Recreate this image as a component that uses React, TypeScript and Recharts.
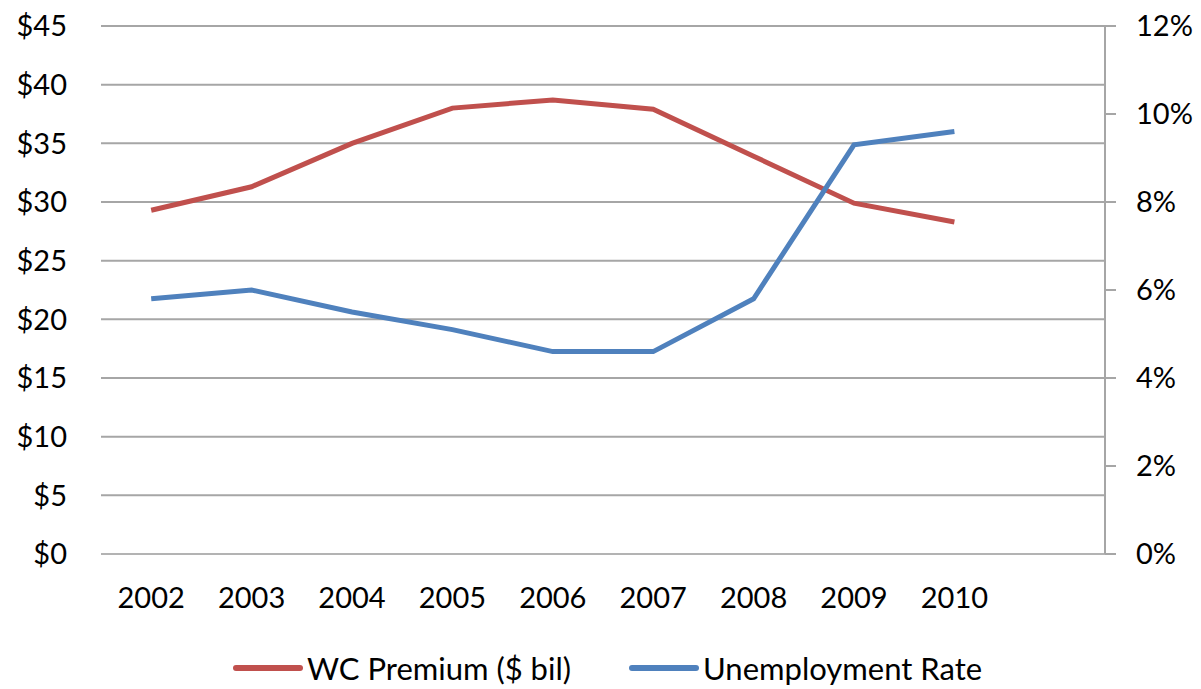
import React from "react";
import { ComposedChart, Line, XAxis, YAxis, CartesianGrid, Legend } from "recharts";

const years = ["2002", "2003", "2004", "2005", "2006", "2007", "2008", "2009", "2010", ""];
const wcPremium: (number | null)[] = [29.3, 31.3, 35.0, 38.0, 38.7, 37.9, 33.9, 29.9, 28.3, null];
const unemployment: (number | null)[] = [5.8, 6.0, 5.5, 5.1, 4.6, 4.6, 5.8, 9.3, 9.6, null];
const leftTicks = [0, 5, 10, 15, 20, 25, 30, 35, 40, 45];
const rightTicks = [0, 2, 4, 6, 8, 10, 12];

const data = years.map((y, i) => ({ year: y, wc: wcPremium[i], unemp: unemployment[i] }));

const FONT = "Lato, 'DejaVu Sans', sans-serif";
const RED = "#C0504D";
const BLUE = "#4F81BD";
const GRID = "#a6a6a6";

const legendItems = [
  { label: "WC Premium ($ bil)", color: RED },
  { label: "Unemployment Rate", color: BLUE },
];

const LegendContent = () => (
  <div style={{ display: "flex", alignItems: "center", marginLeft: 233, fontFamily: FONT, fontSize: 31, color: "#000", height: 44 }}>
    {legendItems.map((it, i) => (
      <div key={i} style={{ display: "flex", alignItems: "center", marginRight: i === 0 ? 58 : 0 }}>
        <div style={{ width: 70, height: 6, background: it.color, borderRadius: 3 }} />
        <span style={{ marginLeft: 4, display: "inline-block", whiteSpace: "nowrap" }}>{it.label}</span>
      </div>
    ))}
  </div>
);

export default function App() {
  return (
    <div style={{ position: "absolute", left: 0, top: 0, width: 1201, height: 689, background: "#fff" }}>
      <ComposedChart width={1201} height={689} data={data} margin={{ top: 26, right: 0, bottom: 0, left: 0 }}>
        <CartesianGrid vertical={false} stroke={GRID} strokeWidth={2} yAxisId="left" />
        <XAxis
          dataKey="year"
          scale="band"
          axisLine={{ stroke: "#b3b3b3", strokeWidth: 2 }}
          tickLine={false}
          tickSize={0}
          tickMargin={33}
          height={91}
          interval={0}
          tick={{ fontFamily: FONT, fontSize: 29, fill: "#000" }}
        />
        <YAxis
          yAxisId="left"
          orientation="left"
          width={101}
          domain={[0, 45]}
          ticks={leftTicks}
          axisLine={false}
          tickLine={false}
          tickSize={0}
          tickMargin={34}
          tickFormatter={(v: number) => `$${v}`}
          tick={{ fontFamily: FONT, fontSize: 29, fill: "#000" }}
        />
        <YAxis
          yAxisId="right"
          orientation="right"
          width={96}
          domain={[0, 12]}
          ticks={rightTicks}
          axisLine={{ stroke: GRID, strokeWidth: 2 }}
          tickLine={{ stroke: GRID, strokeWidth: 2 }}
          tickSize={11}
          tickMargin={20}
          tickFormatter={(v: number) => `${v}%`}
          tick={{ fontFamily: FONT, fontSize: 29, fill: "#000", textAnchor: "start" }}
        />
        <Legend
          verticalAlign="bottom"
          content={<LegendContent />}
          wrapperStyle={{ left: 0, top: 646, width: 1201, height: 44 }}
        />
        <Line yAxisId="left" type="linear" dataKey="wc" name="WC Premium ($ bil)" stroke={RED} strokeWidth={5} dot={false} isAnimationActive={false} />
        <Line yAxisId="right" type="linear" dataKey="unemp" name="Unemployment Rate" stroke={BLUE} strokeWidth={5} dot={false} isAnimationActive={false} />
      </ComposedChart>
    </div>
  );
}
